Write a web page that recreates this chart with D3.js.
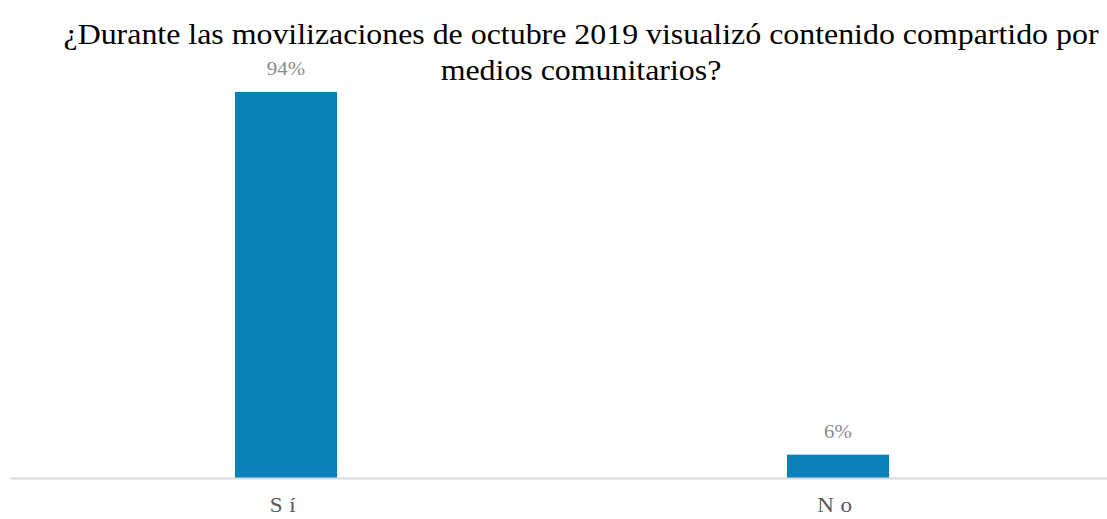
<!DOCTYPE html>
<html><head><meta charset="utf-8">
<script src="https://cdn.jsdelivr.net/npm/d3@7"></script>
<style>body{margin:0;background:#fff}svg{display:block}
text{font-family:"Liberation Serif","Tinos","Times New Roman","DejaVu Serif",serif}</style>
</head><body>
<svg id="c" width="1107" height="519"></svg>
<script>
const categories = ["Sí", "No"];
const values = [94.3, 5.7];
const valueLabels = ["94%", "6%"];
const titleLines = ["¿Durante las movilizaciones de octubre 2019 visualizó contenido compartido por", "medios comunitarios?"];

const svg = d3.select("#c");
const sx = 1.1;
const x = d3.scaleBand().domain(categories).range([10, 1114]).paddingInner(0.815).paddingOuter(0.4075);
const y = d3.scaleLinear().domain([0, 94.3]).range([478, 92]);

svg.selectAll("rect.bar").data(categories).join("rect")
  .attr("class","bar")
  .attr("x", d => x(d))
  .attr("width", x.bandwidth())
  .attr("y", (d,i) => y(values[i]))
  .attr("height", (d,i) => y(0) - y(values[i]))
  .attr("fill", "#0a80b8");

const axis = d3.axisBottom(x).tickSize(0).tickPadding(0);
const g = svg.append("g").attr("transform", `translate(0,${y(0)})`).call(axis);
g.attr("font-family", null);
g.select(".domain").attr("stroke", "#d9d9d9").attr("stroke-width", 2);
g.selectAll(".tick text")
  .attr("y", 34).attr("dy", 0)
  .attr("transform", `scale(${sx},1)`)
  .style("font-size", "21px").attr("fill", "#595959")
  .attr("letter-spacing", "6px");

svg.selectAll("g.val").data(categories).join("g")
  .attr("class","val")
  .attr("transform", (d,i) => `translate(${x(d) + x.bandwidth()/2},${y(values[i]) - 17}) scale(${sx},1)`)
  .append("text")
  .attr("text-anchor", "middle")
  .style("font-size", "19px").attr("fill", "#8c8c8c")
  .text((d,i) => valueLabels[i]);

svg.selectAll("g.title").data(titleLines).join("g")
  .attr("class","title")
  .attr("transform", (d,i) => `translate(581,${44 + i*36}) scale(${sx},1)`)
  .append("text")
  .attr("text-anchor", "middle")
  .style("font-size", "29px").attr("fill", "#000")
  .text(d => d);
</script>
</body></html>
